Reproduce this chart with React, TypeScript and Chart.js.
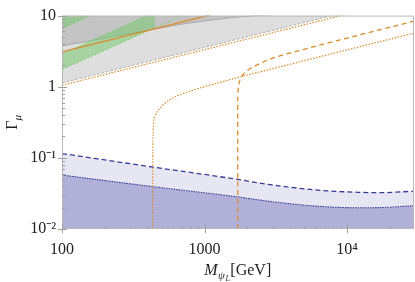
import React, { useEffect, useRef } from "react";
import { Chart, registerables } from "chart.js";

Chart.register(...registerables);

// Axis ticks
const X_TICKS = [100, 1000, 10000];
const X_TICK_LABELS = ["100", "1000", "10⁴"];
const Y_TICKS = [0.01, 0.1, 1, 10];
const Y_TICK_LABELS = ["10⁻²", "10⁻¹", "1", "10"];
const X_MIN = 100;
const X_MAX = 29500;
const Y_MIN = 0.01;
const Y_MAX = 10;

// Excluded regions (grey)
const DARK_GRAY_M = [100, 350, 700, 1300, 2300, 3000];
const DARK_GRAY_G = [3.75, 5.9, 7.6, 9.0, 10.0, 10.3];
const LIGHT_GRAY_M = [100, 10000];
const LIGHT_GRAY_G = [1.13, 11.3];

// Green bands
const GREEN_A_HI_M = [100, 150];
const GREEN_A_HI_G = [9.7, 14.1];
const GREEN_A_LO_M = [100, 200];
const GREEN_A_LO_G = [6.6, 12.3];
const GREEN_B_HI_M = [100, 450];
const GREEN_B_HI_G = [2.9, 11.2];
const GREEN_B_LO_M = [100, 750];
const GREEN_B_LO_G = [1.75, 10.7];

// Orange curves
const OR_SOLID_M = [100, 1100];
const OR_SOLID_G = [3.09, 10.25];
const OR_DOT_LINE_M = [100, 10000];
const OR_DOT_LINE_G = [1.05, 10.5];
const OR_DOT_CURVE_M = [433, 434, 436, 440, 450, 470, 500, 573, 706, 929, 1285, 1833, 3000, 10000, 29500];
const OR_DOT_CURVE_G = [0.01, 0.15, 0.24, 0.32, 0.385, 0.46, 0.53, 0.66, 0.8, 0.96, 1.15, 1.4, 1.79, 3.3, 5.67];
const OR_DASH_CURVE_M = [1710, 1711, 1714, 1720, 1750, 1833, 2000, 2450, 2885, 5000, 10000, 29500];
const OR_DASH_CURVE_G = [0.01, 0.56, 0.72, 0.87, 1.13, 1.41, 1.69, 2.12, 2.45, 3.36, 4.83, 8.35];

// Blue bounds
const BLUE_DASH_M = [100, 433, 1637, 2885, 6470, 12000, 17000, 29500];
const BLUE_DASH_G = [0.115, 0.0743, 0.0505, 0.042, 0.035, 0.0328, 0.0324, 0.034];
const BLUE_DOT_M = [100, 433, 1637, 2885, 6000, 11740, 17000, 29500];
const BLUE_DOT_G = [0.0573, 0.0394, 0.0286, 0.0244, 0.021, 0.0199, 0.02, 0.0213];

const ORANGE = "#dc8a2c";
const BLUE = "#3a3a98";
const SERIF = "'Liberation Serif', 'Times New Roman', serif";

const pts = (ms: number[], gs: number[]) => ms.map((m, i) => ({ x: m, y: gs[i] }));

const framePlugin = {
  id: "frameAndTicks",
  afterDatasetsDraw(chart: any) {
    const { ctx, chartArea: a, scales } = chart;
    const xs = scales.x;
    const ys = scales.y;
    ctx.save();
    ctx.strokeStyle = "#b8b8b8";
    ctx.lineWidth = 1;
    ctx.strokeRect(a.left + 0.5, a.top + 0.5, a.right - a.left - 1, a.bottom - a.top - 1);
    ctx.strokeStyle = "#a0a0a0";
    ctx.beginPath();
    for (let d = 100; d <= 10000; d *= 10) {
      for (let k = 1; k < 10; k++) {
        const v = d * k;
        if (v > X_MAX) break;
        const px = Math.round(xs.getPixelForValue(v)) + 0.5;
        if (k === 1) {
          ctx.moveTo(px, a.bottom + 4);
          ctx.lineTo(px, a.bottom - 5);
        } else {
          ctx.moveTo(px, a.bottom);
          ctx.lineTo(px, a.bottom - 3);
        }
      }
    }
    for (let d = 0.01; d <= 10; d *= 10) {
      for (let k = 1; k < 10; k++) {
        const v = d * k;
        if (v > Y_MAX * 1.0001) break;
        const py = Math.round(ys.getPixelForValue(v)) + 0.5;
        if (k === 1) {
          ctx.moveTo(a.left - 4, py);
          ctx.lineTo(a.left + 5, py);
        } else {
          ctx.moveTo(a.left, py);
          ctx.lineTo(a.left + 3, py);
        }
      }
    }
    ctx.stroke();
    ctx.restore();
  },
  afterDraw(chart: any) {
    const { ctx, chartArea: a } = chart;
    ctx.save();
    ctx.fillStyle = "#222";
    ctx.textBaseline = "alphabetic";
    // X title: M_{psi_L}[GeV]
    const cx = (a.left + a.right) / 2;
    const parts: Array<[string, string, number]> = [
      ["M", "italic 16px " + SERIF, 0],
      ["ψ", "italic 11px " + SERIF, 4],
      ["L", "italic 8px " + SERIF, 6],
      ["[GeV]", "16px " + SERIF, 0],
    ];
    let total = 0;
    const widths = parts.map(([t, f]) => {
      ctx.font = f;
      const w = ctx.measureText(t).width;
      total += w + 0.5;
      return w;
    });
    let x = cx - total / 2;
    const by = 275;
    parts.forEach(([t, f, dy], i) => {
      ctx.font = f;
      ctx.fillText(t, x, by + dy);
      x += widths[i] + 0.5;
    });
    // Y title: Gamma_mu rotated
    ctx.translate(17, (a.top + a.bottom) / 2);
    ctx.rotate(-Math.PI / 2);
    ctx.font = "16px " + SERIF;
    const wg = ctx.measureText("Γ").width;
    ctx.font = "italic 11px " + SERIF;
    const wm = ctx.measureText("μ").width;
    const start = -(wg + wm) / 2;
    ctx.font = "16px " + SERIF;
    ctx.fillText("Γ", start, 0);
    ctx.font = "italic 11px " + SERIF;
    ctx.fillText("μ", start + wg, 4);
    ctx.restore();
  },
};

export default function App() {
  const ref = useRef<HTMLCanvasElement | null>(null);
  useEffect(() => {
    if (!ref.current) return;
    const line = (data: any, extra: any) => ({
      data,
      pointRadius: 0,
      borderWidth: 1,
      fill: false,
      tension: 0,
      ...extra,
    });
    const chart = new Chart(ref.current, {
      type: "line",
      data: {
        datasets: [
          // 0-3 orange (top)
          line(pts(OR_SOLID_M, OR_SOLID_G), { borderColor: ORANGE, borderWidth: 1.3 }),
          line(pts(OR_DOT_LINE_M, OR_DOT_LINE_G), { borderColor: ORANGE, borderWidth: 1.2, borderDash: [1.5, 1.5] }),
          line(pts(OR_DOT_CURVE_M, OR_DOT_CURVE_G), { borderColor: ORANGE, borderWidth: 1.2, borderDash: [1.5, 1.5], cubicInterpolationMode: "monotone" }),
          line(pts(OR_DASH_CURVE_M, OR_DASH_CURVE_G), { borderColor: ORANGE, borderWidth: 1.3, borderDash: [5, 3.5], cubicInterpolationMode: "monotone" }),
          // 4-7 green bands
          line(pts(GREEN_A_HI_M, GREEN_A_HI_G), { borderColor: "rgba(120,210,110,0.9)", borderDash: [2, 2], fill: 5, backgroundColor: "rgba(110,200,100,0.5)" }),
          line(pts(GREEN_A_LO_M, GREEN_A_LO_G), { borderColor: "rgba(120,210,110,0.9)", borderDash: [2, 2] }),
          line(pts(GREEN_B_HI_M, GREEN_B_HI_G), { borderColor: "rgba(120,210,110,0.9)", borderDash: [2, 2], fill: 7, backgroundColor: "rgba(110,200,100,0.5)" }),
          line(pts(GREEN_B_LO_M, GREEN_B_LO_G), { borderColor: "rgba(120,210,110,0.9)", borderDash: [2, 2] }),
          // 8-9 grey regions
          line(pts(DARK_GRAY_M, DARK_GRAY_G), { borderColor: "#a9a9a9", fill: "end", backgroundColor: "#c4c4c4", cubicInterpolationMode: "monotone" }),
          line(pts(LIGHT_GRAY_M, LIGHT_GRAY_G), { borderColor: "#b3b3b3", borderDash: [3, 1.5], fill: "end", backgroundColor: "#dedede" }),
          // 10-11 blue
          line(pts(BLUE_DOT_M, BLUE_DOT_G), { borderColor: BLUE, borderWidth: 1.1, borderDash: [1.5, 1], fill: "start", backgroundColor: "#b0b0d8", cubicInterpolationMode: "monotone" }),
          line(pts(BLUE_DASH_M, BLUE_DASH_G), { borderColor: BLUE, borderWidth: 1.3, borderDash: [5, 3], fill: "start", backgroundColor: "#e7e7f3", cubicInterpolationMode: "monotone" }),
        ],
      },
      options: {
        animation: false,
        responsive: false,
        maintainAspectRatio: false,
        events: [],
        layout: { padding: { top: 11, right: 1, left: 0, bottom: 0 } },
        plugins: { legend: { display: false }, tooltip: { enabled: false } },
        scales: {
          x: {
            type: "logarithmic",
            min: X_MIN,
            max: X_MAX,
            grid: { display: false, drawTicks: false },
            border: { display: false },
            afterBuildTicks: (s: any) => {
              s.ticks = X_TICKS.map((v) => ({ value: v }));
            },
            afterFit: (s: any) => {
              s.height = 53;
            },
            ticks: {
              autoSkip: false,
              maxRotation: 0,
              padding: 11,
              color: "#222",
              font: { family: SERIF, size: 16 },
              callback: (v: any) => {
                const i = X_TICKS.indexOf(Number(v));
                return i >= 0 ? X_TICK_LABELS[i] : "";
              },
            },
          },
          y: {
            type: "logarithmic",
            min: Y_MIN,
            max: Y_MAX,
            grid: { display: false, drawTicks: false },
            border: { display: false },
            afterBuildTicks: (s: any) => {
              s.ticks = Y_TICKS.map((v) => ({ value: v }));
            },
            afterFit: (s: any) => {
              s.width = 62;
            },
            ticks: {
              autoSkip: false,
              padding: 6,
              color: "#222",
              font: { family: SERIF, size: 16 },
              callback: (v: any) => {
                const i = Y_TICKS.findIndex((t) => Math.abs(t - Number(v)) / t < 1e-6);
                return i >= 0 ? Y_TICK_LABELS[i] : "";
              },
            },
          },
        },
      },
      plugins: [framePlugin],
    } as any);
    return () => chart.destroy();
  }, []);
  return (
    <div style={{ position: "fixed", left: 0, top: 0, width: 415, height: 282, background: "#fff" }}>
      <canvas ref={ref} width={415} height={282} style={{ width: 415, height: 282, display: "block" }} />
    </div>
  );
}
